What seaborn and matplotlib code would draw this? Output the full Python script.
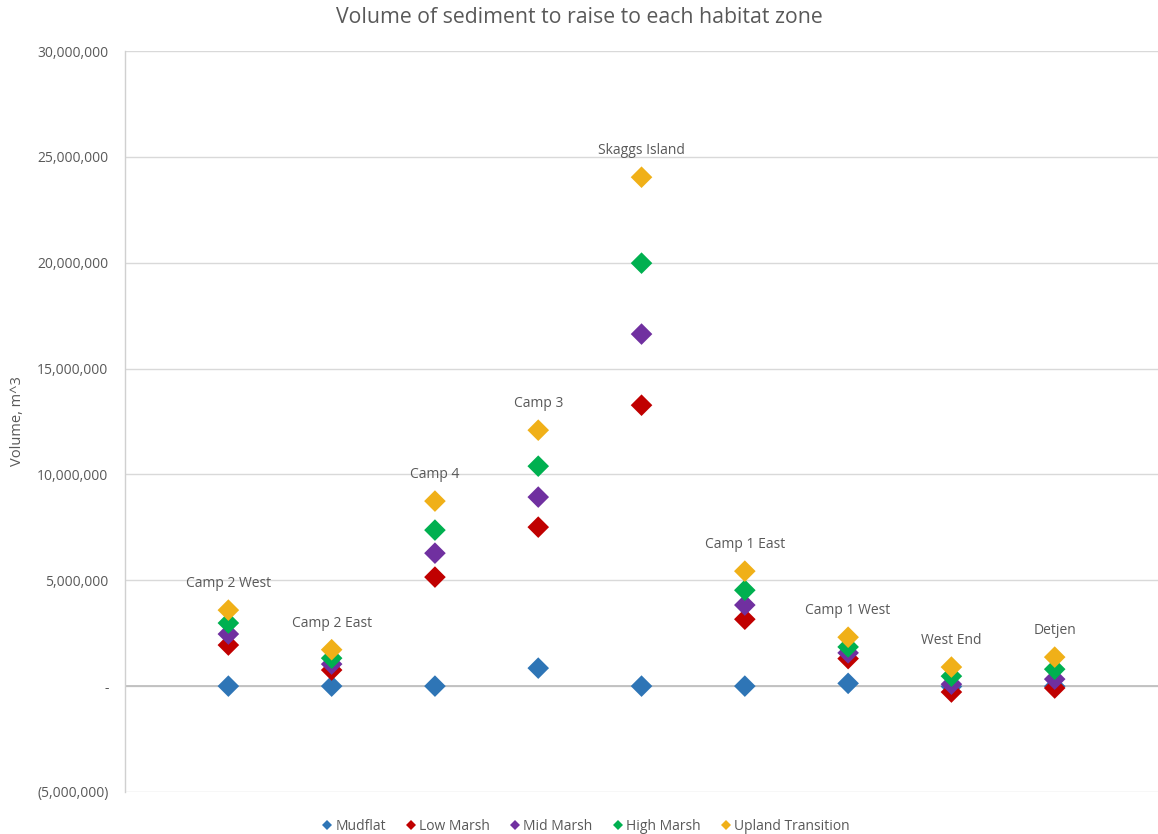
import matplotlib
matplotlib.use("Agg")
import matplotlib.pyplot as plt
from matplotlib.ticker import FuncFormatter, MultipleLocator
from matplotlib.lines import Line2D
import seaborn as sns
import pandas as pd
import numpy as np

# Sites along the x axis
sites = ["Camp 2 West", "Camp 2 East", "Camp 4", "Camp 3", "Skaggs Island",
         "Camp 1 East", "Camp 1 West", "West End", "Detjen"]

# Sediment volume (m^3) needed to raise each site to the given habitat zone
mudflat = [0, 0, 0, 850_000, 0, 0, 130_000, -20_000, -10_000]
low_marsh = [1_940_000, 760_000, 5_150_000, 7_510_000, 13_270_000,
             3_160_000, 1_300_000, -280_000, -90_000]
mid_marsh = [2_460_000, 1_040_000, 6_280_000, 8_930_000, 16_630_000,
             3_830_000, 1_570_000, 90_000, 330_000]
high_marsh = [2_980_000, 1_320_000, 7_370_000, 10_390_000, 19_980_000,
              4_530_000, 1_850_000, 470_000, 800_000]
upland = [3_590_000, 1_720_000, 8_740_000, 12_090_000, 24_040_000,
          5_430_000, 2_310_000, 900_000, 1_370_000]

zones = ["Mudflat", "Low Marsh", "Mid Marsh", "High Marsh", "Upland Transition"]
series = [mudflat, low_marsh, mid_marsh, high_marsh, upland]
colors = ["#2E75B6", "#C00000", "#7030A0", "#00B050", "#F0B018"]

df = pd.DataFrame({
    "site": np.tile(sites, len(zones)),
    "zone": np.repeat(zones, len(sites)),
    "volume": np.concatenate(series),
})

sns.set_theme(style="white")
plt.rcParams["font.family"] = ["Open Sans", "DejaVu Sans"]
text_grey = "#595959"

fig = plt.figure(figsize=(11.58, 8.34), dpi=100)
ax = fig.add_axes([0.108, 0.0504, 0.892, 0.8884])

sns.stripplot(data=df, x="site", y="volume", hue="zone", order=sites,
              hue_order=zones, palette=colors, jitter=False, dodge=False,
              marker="D", size=11, linewidth=0, ax=ax, legend=False, zorder=3)

ax.set_xlim(-1, len(sites))
ax.set_ylim(-5_000_000, 30_000_000)
ax.yaxis.set_major_locator(MultipleLocator(5_000_000))


def fmt(v, pos):
    if abs(v) < 1:
        return "-"
    if v < 0:
        return "({:,.0f})".format(-v)
    return "{:,.0f}".format(v)


ax.yaxis.set_major_formatter(FuncFormatter(fmt))
ax.tick_params(axis="y", labelsize=10, labelcolor=text_grey, length=0, pad=12)
ax.set_xticks([])
ax.set_xlabel("")
ax.set_ylabel("Volume, m^3", fontsize=10.5, color=text_grey, labelpad=9)

ax.grid(axis="y", color="#d9d9d9", linewidth=1)
ax.axhline(0, color="#bfbfbf", linewidth=1.3, zorder=1)
for side in ["top", "right", "bottom"]:
    ax.spines[side].set_visible(False)
ax.spines["left"].set_color("#d0d0d0")
ax.spines["left"].set_linewidth(1)

# Site names above the topmost marker of each cluster
for i, (name, top) in enumerate(zip(sites, upland)):
    ax.annotate(name, (i, top), xytext=(0, 19), textcoords="offset points",
                ha="center", va="center", fontsize=10, color=text_grey)

fig.suptitle("Volume of sediment to raise to each habitat zone",
             y=0.979, va="center", fontsize=15.3, color=text_grey)

handles = [Line2D([], [], linestyle="none", marker="D", markersize=5.5,
                  markerfacecolor=c, markeredgewidth=0) for c in colors]
fig.legend(handles, zones, loc="center", bbox_to_anchor=(0.505, 0.0095),
           ncol=5, frameon=False, fontsize=10, handletextpad=0.1,
           columnspacing=1.3, handlelength=1.0, labelcolor=text_grey)

fig.savefig("out.png", dpi=100)
